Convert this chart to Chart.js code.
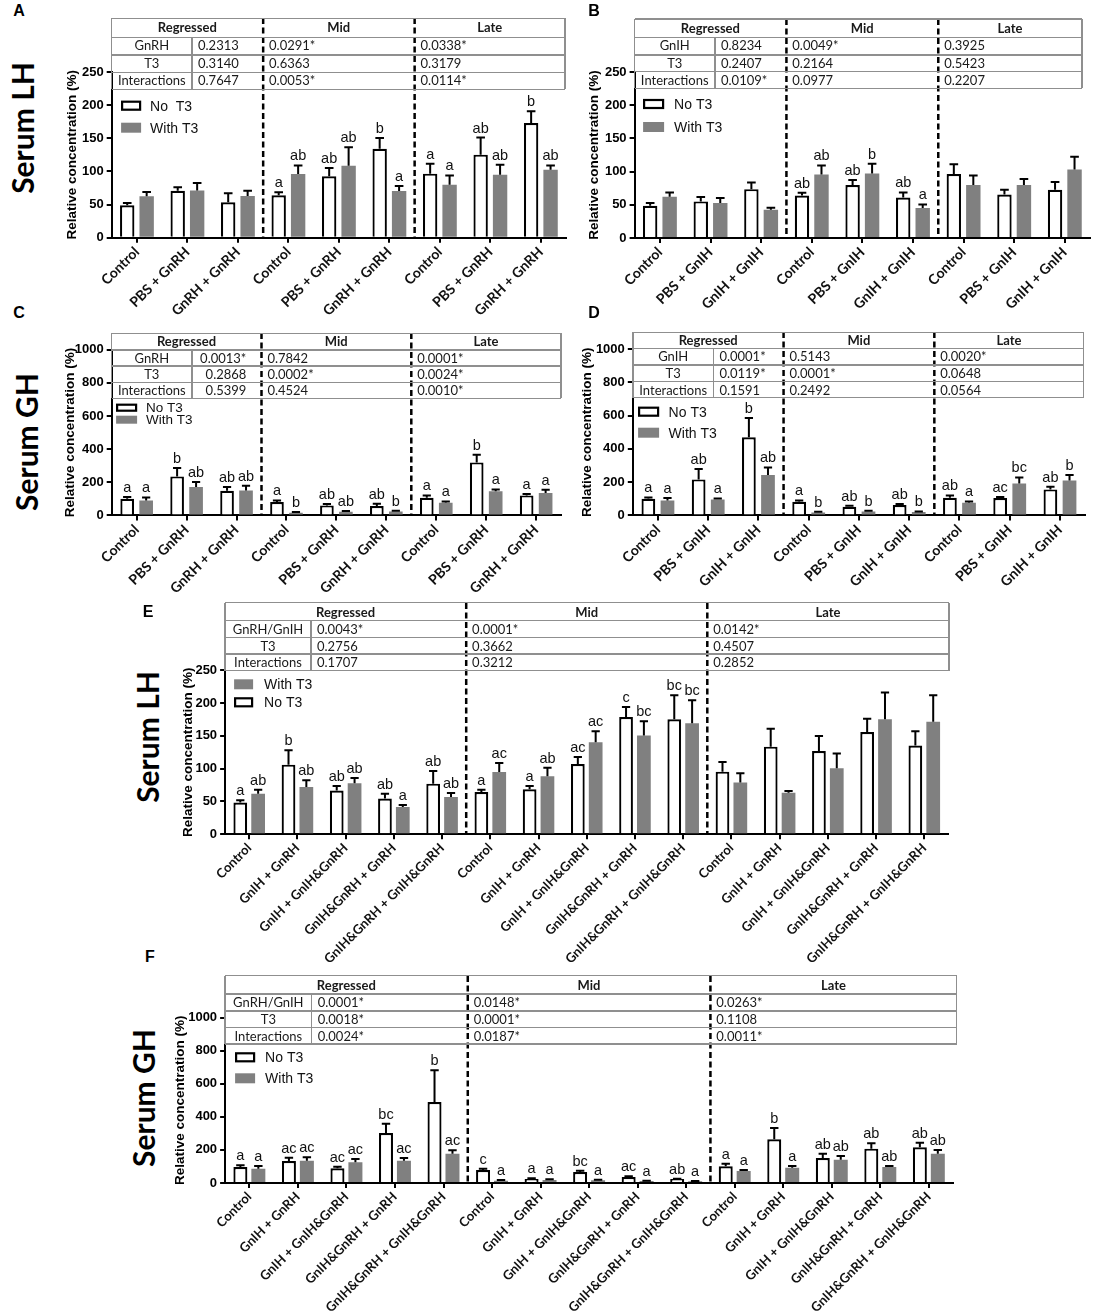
<!DOCTYPE html>
<html>
<head>
<meta charset="utf-8">
<script src="https://cdn.jsdelivr.net/npm/chart.js@4.4.1/dist/chart.umd.min.js"></script>
<style>
  body { margin: 0; background: #fff; width: 1095px; height: 1314px; position: relative; overflow: hidden; }
  canvas { position: absolute; }
  .tl { position: absolute; background: #8f8f8f; }
  .tt { position: absolute; font-family: Lato, sans-serif; font-size: 13px; color: #1a1a1a; white-space: nowrap; }
  .side { position: absolute; font-family: Lato, sans-serif; font-weight: bold; font-size: 30px; color: #000;
          transform: translate(-50%, -50%) rotate(-90deg); white-space: nowrap; }
  .letter { position: absolute; font-family: "Liberation Sans", Arial, sans-serif; font-weight: bold; font-size: 16px;
            color: #000; transform: translate(-50%, -50%); }
</style>
</head>
<body>
<script>
// ---- data ----
const stages = ['Regressed', 'Mid', 'Late'];

const labelsA = ['Control', 'PBS + GnRH', 'GnRH + GnRH', 'Control', 'PBS + GnRH', 'GnRH + GnRH', 'Control', 'PBS + GnRH', 'GnRH + GnRH'];
const labelsB = ['Control', 'PBS + GnIH', 'GnIH + GnIH', 'Control', 'PBS + GnIH', 'GnIH + GnIH', 'Control', 'PBS + GnIH', 'GnIH + GnIH'];
const labelsE = ['Control', 'GnIH + GnRH', 'GnIH + GnIH&GnRH', 'GnIH&GnRH + GnRH', 'GnIH&GnRH + GnIH&GnRH',
                 'Control', 'GnIH + GnRH', 'GnIH + GnIH&GnRH', 'GnIH&GnRH + GnRH', 'GnIH&GnRH + GnIH&GnRH',
                 'Control', 'GnIH + GnRH', 'GnIH + GnIH&GnRH', 'GnIH&GnRH + GnRH', 'GnIH&GnRH + GnIH&GnRH'];

// A - serum LH, GnRH
const aNoT3 = [48.8, 70.9, 53.3, 63.9, 92.6, 134.3, 96.6, 125.3, 173];
const aNoT3Err = [3.5, 5.1, 13.6, 4.5, 12.4, 16.1, 15.1, 25.7, 17.6];
const aWithT3 = [62.4, 71.4, 62.9, 96, 108.7, 70.4, 80, 95, 102.6];
const aWithT3Err = [6.5, 11.1, 8, 13, 27.6, 7.6, 14, 15, 6.4];
const aNoT3Sig = ['', '', '', 'a', 'ab', 'b', 'a', 'ab', 'b'];
const aWithT3Sig = ['', '', '', 'ab', 'ab', 'a', 'a', 'ab', 'ab'];
const factorsA = ['GnRH', 'T3', 'Interactions'];
const pRegA = ['0.2313', '0.3140', '0.7647'];
const pMidA = ['0.0291*', '0.6363', '0.0053*'];
const pLateA = ['0.0338*', '0.3179', '0.0114*'];

// B - serum LH, GnIH
const bNoT3 = [48.6, 55.1, 73.6, 64.1, 79.7, 61.1, 96.2, 65.6, 72.6];
const bNoT3Err = [4, 6.5, 10.1, 4, 7.5, 7.5, 15, 7, 11.6];
const bWithT3 = [62.1, 52.6, 42.6, 95.7, 97.2, 45.1, 79.7, 79.7, 103.2];
const bWithT3Err = [6.5, 7.5, 3, 13.5, 14.5, 5.5, 14.5, 9, 19];
const bNoT3Sig = ['', '', '', 'ab', 'ab', 'ab', '', '', ''];
const bWithT3Sig = ['', '', '', 'ab', 'b', 'a', '', '', ''];
const factorsB = ['GnIH', 'T3', 'Interactions'];
const pRegB = ['0.8234', '0.2407', '0.0109*'];
const pMidB = ['0.0049*', '0.2164', '0.0977'];
const pLateB = ['0.3925', '0.5423', '0.2207'];

// C - serum GH, GnRH
const cNoT3 = [100.6, 235.4, 148.9, 80.5, 60.4, 56.3, 106.6, 320, 120.7];
const cNoT3Err = [10.1, 50.3, 22.1, 10, 8, 14.1, 14.1, 46.2, 8.1];
const cWithT3 = [90.5, 171, 150.9, 16, 22, 24, 76.5, 145, 134.8];
const cWithT3Err = [18.2, 30, 28.1, 4, 4, 4, 8, 12, 20.2];
const cNoT3Sig = ['a', 'b', 'ab', 'a', 'ab', 'ab', 'a', 'b', 'a'];
const cWithT3Sig = ['a', 'ab', 'ab', 'b', 'ab', 'b', 'a', 'a', 'a'];
const factorsC = ['GnRH', 'T3', 'Interactions'];
const pRegC = ['0.0013*', '0.2868', '0.5399'];
const pMidC = ['0.7842', '0.0002*', '0.4524'];
const pLateC = ['0.0001*', '0.0024*', '0.0010*'];

// D - serum GH, GnIH
const dNoT3 = [100.2, 216.4, 469, 82.2, 52.1, 62.1, 106.2, 104.2, 156.3];
const dNoT3Err = [8, 62.2, 116, 8, 6, 6, 14, 6, 16];
const dWithT3 = [90.2, 96.2, 242.5, 18, 24, 20, 76.2, 192.4, 210.4];
const dWithT3Err = [14, 6, 46.1, 4, 4, 4, 8, 36.1, 32.1];
const dNoT3Sig = ['a', 'ab', 'b', 'a', 'ab', 'ab', 'ab', 'ac', 'ab'];
const dWithT3Sig = ['a', 'a', 'ab', 'b', 'b', 'b', 'a', 'bc', 'b'];
const factorsD = ['GnIH', 'T3', 'Interactions'];
const pRegD = ['0.0001*', '0.0119*', '0.1591'];
const pMidD = ['0.5143', '0.0001*', '0.2492'];
const pLateD = ['0.0020*', '0.0648', '0.0564'];

// E - serum LH, combined
const eNoT3 = [48.3, 106.2, 66.6, 54.4, 77.2, 64.5, 68.6, 107.2, 178.9, 175.3, 95.5, 133.6, 127, 156, 135.2];
const eNoT3Err = [3.5, 21.8, 7.1, 7.6, 19.3, 3.6, 5.1, 10.7, 15.2, 36.6, 14.8, 27.4, 22.9, 20.3, 21.8];
const eWithT3 = [62, 72.2, 77.7, 41.7, 56.9, 95, 88.4, 140.2, 150.5, 169.2, 78.8, 63.5, 100.6, 175.3, 171.7];
const eWithT3Err = [6.1, 10.1, 8.2, 3, 6.1, 13.7, 13.2, 16.8, 22, 35.1, 14.2, 2.5, 22.4, 40.7, 40.2];
const eNoT3Sig = ['a', 'b', 'ab', 'ab', 'ab', 'a', 'a', 'ac', 'c', 'bc', '', '', '', '', ''];
const eWithT3Sig = ['ab', 'ab', 'ab', 'a', 'ab', 'ac', 'ab', 'ac', 'bc', 'bc', '', '', '', '', ''];
const factorsE = ['GnRH/GnIH', 'T3', 'Interactions'];
const pRegE = ['0.0043*', '0.2756', '0.1707'];
const pMidE = ['0.0001*', '0.3662', '0.3212'];
const pLateE = ['0.0142*', '0.4507', '0.2852'];

// F - serum GH, combined
const fNoT3 = [96.8, 133, 88.7, 302.4, 489.9, 78.6, 24.2, 66.5, 36.3, 24.2, 100.8, 264.1, 151.2, 207.7, 215.7];
const fNoT3Err = [10.1, 20.2, 10.1, 56.5, 191.6, 8.1, 4, 8.1, 4, 2, 16.2, 68.6, 26.2, 32.2, 28.3];
const fWithT3 = [86.7, 135, 125, 135, 177.4, 14.1, 18.1, 16.1, 12.1, 10, 72.6, 92.7, 141.1, 96.8, 177.4];
const fWithT3Err = [16.1, 20.2, 20.2, 16.2, 20.2, 4, 4.1, 4.1, 2, 2, 6, 10.1, 22.2, 6, 22.2];
const fNoT3Sig = ['a', 'ac', 'ac', 'bc', 'b', 'c', 'a', 'bc', 'ac', 'ab', 'a', 'b', 'ab', 'ab', 'ab'];
const fWithT3Sig = ['a', 'ac', 'ac', 'ac', 'ac', 'a', 'a', 'a', 'a', 'a', 'a', 'a', 'ab', 'ab', 'ab'];
const factorsF = ['GnRH/GnIH', 'T3', 'Interactions'];
const pRegF = ['0.0001*', '0.0018*', '0.0024*'];
const pMidF = ['0.0148*', '0.0001*', '0.0187*'];
const pLateF = ['0.0263*', '0.1108', '0.0011*'];

// ---- layout of each panel (page pixels) ----
const panels = [
  { labels: labelsA, noLabel: 'No  T3', no: aNoT3, noErr: aNoT3Err, noSig: aNoT3Sig, w: aWithT3, wErr: aWithT3Err, wSig: aWithT3Sig,
    yMax: 250, step: 50, axisL: 111.6, axisR: 566, yTop: 72.3, y0: 238, titleX: 72, xH: 84, xFont: 14, splits: [3, 6], cp: 0.77, bp: 0.74,
    table: { L: 111.6, R: 565, c1: 192, rows: [18.3, 37.3, 55, 72.3, 89.3], factors: factorsA, reg: pRegA, mid: pMidA, late: pLateA, regAlign: 'left' },
    legend: { x: 121, w: 20, h: 10, tops: [101, 123], textX: 150, order: [0, 1], size: 14 } },
  { labels: labelsB, noLabel: 'No T3', no: bNoT3, noErr: bNoT3Err, noSig: bNoT3Sig, w: bWithT3, wErr: bWithT3Err, wSig: bWithT3Sig,
    yMax: 250, step: 50, axisL: 634.5, axisR: 1090, yTop: 72, y0: 238, titleX: 594, xH: 84, xFont: 14, splits: [3, 6], cp: 0.77, bp: 0.74,
    table: { L: 634.5, R: 1082, c1: 715, rows: [19, 37.3, 55, 71.5, 88.3], factors: factorsB, reg: pRegB, mid: pMidB, late: pLateB, regAlign: 'left' },
    legend: { x: 643, w: 21, h: 10, tops: [99, 122], textX: 674, order: [0, 1], size: 14 } },
  { labels: labelsA, noLabel: 'No T3', no: cNoT3, noErr: cNoT3Err, noSig: cNoT3Sig, w: cWithT3, wErr: cWithT3Err, wSig: cWithT3Sig,
    yMax: 1000, step: 200, axisL: 111.6, axisR: 561, yTop: 350, y0: 515.7, titleX: 70, xH: 84, xFont: 14, splits: [3, 6], cp: 0.76, bp: 0.72,
    table: { L: 111.6, R: 561, c1: 192, rows: [333.3, 350, 366, 382.3, 398.3], factors: factorsC, reg: pRegC, mid: pMidC, late: pLateC, regAlign: 'right' },
    legend: { x: 116, w: 21, h: 8, tops: [404, 416], textX: 146, order: [0, 1], size: 13.5 } },
  { labels: labelsB, noLabel: 'No T3', no: dNoT3, noErr: dNoT3Err, noSig: dNoT3Sig, w: dWithT3, wErr: dWithT3Err, wSig: dWithT3Sig,
    yMax: 1000, step: 200, axisL: 632.7, axisR: 1085, yTop: 349.3, y0: 515.7, titleX: 587, xH: 84, xFont: 14, splits: [3, 6], cp: 0.76, bp: 0.72,
    table: { L: 633, R: 1083.6, c1: 713.4, rows: [332.3, 348.3, 365, 381.7, 397.7], factors: factorsD, reg: pRegD, mid: pMidD, late: pLateD, regAlign: 'left' },
    legend: { x: 638, w: 21, h: 10, tops: [407, 428], textX: 668.5, order: [0, 1], size: 14 } },
  { labels: labelsE, noLabel: 'No T3', no: eNoT3, noErr: eNoT3Err, noSig: eNoT3Sig, w: eWithT3, wErr: eWithT3Err, wSig: eWithT3Sig,
    yMax: 250, step: 50, axisL: 225, axisR: 948.3, yTop: 670, y0: 834, titleX: 188, xH: 150, xFont: 13, splits: [5, 10], cp: 0.74, bp: 0.77,
    table: { L: 225, R: 949, c1: 311, rows: [602.7, 620.7, 637.7, 654, 670.7], factors: factorsE, reg: pRegE, mid: pMidE, late: pLateE, regAlign: 'left' },
    legend: { x: 234, w: 19, h: 10, tops: [679, 697], textX: 264, order: [1, 0], size: 14 } },
  { labels: labelsE, noLabel: 'No T3', no: fNoT3, noErr: fNoT3Err, noSig: fNoT3Sig, w: fWithT3, wErr: fWithT3Err, wSig: fWithT3Sig,
    yMax: 1000, step: 200, axisL: 225, axisR: 953, yTop: 1017.3, y0: 1182.7, titleX: 180, xH: 131, xFont: 13, splits: [5, 10], cp: 0.74, bp: 0.78,
    table: { L: 225, R: 956.7, c1: 311.7, rows: [975.7, 994, 1011, 1027.7, 1044], factors: factorsF, reg: pRegF, mid: pMidF, late: pLateF, regAlign: 'left' },
    legend: { x: 235, w: 20, h: 10, tops: [1052, 1073], textX: 265, order: [0, 1], size: 14 } }
];

const sideLabels = [
  { text: 'Serum LH', x: 22, y: 128 },
  { text: 'Serum GH', x: 26, y: 442 },
  { text: 'Serum LH', x: 147, y: 737 },
  { text: 'Serum GH', x: 143, y: 1098 }
];
const panelLetters = [
  { text: 'A', x: 19, y: 11 }, { text: 'B', x: 594, y: 11 },
  { text: 'C', x: 19, y: 313 }, { text: 'D', x: 594, y: 313 },
  { text: 'E', x: 148, y: 612 }, { text: 'F', x: 150, y: 957 }
];

// ---- plugin: dashed stage separators, error bars, letters, legend ----
const panelPlugin = {
  id: 'panel',
  afterDatasetsDraw(chart, args, opts) {
    const ctx = chart.ctx;
    const xs = chart.scales.x, ys = chart.scales.y, area = chart.chartArea;
    ctx.save();

    ctx.strokeStyle = '#000';
    ctx.lineWidth = 2.5;
    ctx.setLineDash([6, 3.5]);
    opts.splits.forEach(k => {
      const px = (xs.getPixelForTick(k - 1) + xs.getPixelForTick(k)) / 2;
      ctx.beginPath();
      ctx.moveTo(px, opts.lineTop);
      ctx.lineTo(px, area.bottom);
      ctx.stroke();
    });
    ctx.setLineDash([]);

    chart.data.datasets.forEach((ds, i) => {
      chart.getDatasetMeta(i).data.forEach((bar, j) => {
        const top = ys.getPixelForValue(ds.data[j] + ds.err[j]);
        const cap = bar.width * 0.3;
        ctx.strokeStyle = '#000';
        ctx.lineWidth = 2;
        ctx.beginPath();
        ctx.moveTo(bar.x, bar.y);
        ctx.lineTo(bar.x, top);
        ctx.moveTo(bar.x - cap, top);
        ctx.lineTo(bar.x + cap, top);
        ctx.stroke();
        if (ds.sig[j]) {
          ctx.fillStyle = '#111';
          ctx.font = '14.5px "Liberation Sans", Arial, sans-serif';
          ctx.textAlign = 'center';
          ctx.textBaseline = 'alphabetic';
          ctx.fillText(ds.sig[j], bar.x, top - 5);
        }
      });
    });

    // legend inside the plot
    const lg = opts.legend;
    lg.order.forEach((di, n) => {
      const ds = chart.data.datasets[di];
      const bx = lg.x - opts.offX, by = lg.tops[n] - opts.offY;
      if (ds.borderWidth) {
        ctx.fillStyle = '#fff';
        ctx.fillRect(bx, by, lg.w, lg.h);
        ctx.strokeStyle = '#000';
        ctx.lineWidth = 2.2;
        ctx.strokeRect(bx + 1, by + 1, lg.w - 2, lg.h - 2);
      } else {
        ctx.fillStyle = ds.backgroundColor;
        ctx.fillRect(bx, by, lg.w, lg.h);
      }
      ctx.fillStyle = '#111';
      ctx.font = lg.size + 'px "Liberation Sans", Arial, sans-serif';
      ctx.textAlign = 'left';
      ctx.textBaseline = 'middle';
      ctx.fillText(ds.label, lg.textX - opts.offX, by + lg.h / 2 + 1);
    });
    ctx.restore();
  }
};

function addLine(x, y, w, h) {
  const d = document.createElement('div');
  d.className = 'tl';
  Object.assign(d.style, { left: x + 'px', top: y + 'px', width: w + 'px', height: h + 'px' });
  document.body.appendChild(d);
}

function addText(text, x, y, w, h, align, bold) {
  const d = document.createElement('div');
  d.className = 'tt';
  d.textContent = text;
  Object.assign(d.style, { left: x + 'px', top: y + 'px', width: w + 'px', height: h + 'px',
    lineHeight: h + 'px', textAlign: align, fontWeight: bold ? 'bold' : 'normal' });
  document.body.appendChild(d);
}

function buildPanel(p) {
  const left = p.titleX - 8.1;
  const top = p.table.rows[0] - 4;
  const cw = Math.round(p.axisR + 14 - left);
  const ch = Math.round(p.y0 + p.xH - top);
  const cv = document.createElement('canvas');
  cv.width = cw;
  cv.height = ch;
  cv.style.left = left + 'px';
  cv.style.top = top + 'px';
  document.body.appendChild(cv);

  const chart = new Chart(cv, {
    type: 'bar',
    data: {
      labels: p.labels,
      datasets: [
        { label: p.noLabel, data: p.no, err: p.noErr, sig: p.noSig, backgroundColor: '#fff', borderColor: '#000', borderWidth: 2.2 },
        { label: 'With T3', data: p.w, err: p.wErr, sig: p.wSig, backgroundColor: '#808080', borderWidth: 0 }
      ]
    },
    options: {
      responsive: false,
      animation: false,
      events: [],
      layout: { padding: { left: 0, top: p.yTop - top, right: cw - (p.axisR - left), bottom: 0 } },
      datasets: { bar: { categoryPercentage: p.cp, barPercentage: p.bp } },
      plugins: {
        legend: { display: false },
        tooltip: { enabled: false },
        panel: { splits: p.splits, lineTop: p.table.rows[0] - top, legend: p.legend, offX: left, offY: top }
      },
      scales: {
        x: {
          offset: true,
          grid: { offset: false, drawOnChartArea: false, tickLength: 5, color: '#000', lineWidth: 2 },
          border: { color: '#000', width: 2 },
          ticks: { autoSkip: false, minRotation: 45, maxRotation: 45, padding: 1, color: '#111',
                   font: { family: 'Lato', weight: 'bold', size: p.xFont } },
          afterFit: s => { s.height = ch - (p.y0 - top); }
        },
        y: {
          min: 0, max: p.yMax,
          grid: { drawOnChartArea: false, tickLength: 5, color: '#000', lineWidth: 2 },
          border: { color: '#000', width: 2 },
          ticks: { stepSize: p.step, padding: 3, color: '#000', callback: v => String(v),
                   font: { family: '"Liberation Sans", Arial', weight: 'bold', size: 13 } },
          title: { display: true, text: 'Relative concentration (%)', color: '#000', padding: 0,
                   font: { family: '"Liberation Sans", Arial', weight: 'bold', size: 13.5 } },
          afterFit: s => { s.width = p.axisL - left; }
        }
      }
    },
    plugins: [panelPlugin]
  });

  // statistics table, its stage columns follow the dashed separators
  const t = p.table, xs = chart.scales.x;
  const d1 = left + (xs.getPixelForTick(p.splits[0] - 1) + xs.getPixelForTick(p.splits[0])) / 2;
  const d2 = left + (xs.getPixelForTick(p.splits[1] - 1) + xs.getPixelForTick(p.splits[1])) / 2;
  const r = t.rows, lw = 1.5;
  r.forEach(y => addLine(t.L, y - lw / 2, t.R - t.L, lw));
  addLine(t.L - lw / 2, r[0], lw, r[4] - r[0]);
  addLine(t.R - lw / 2, r[0], lw, r[4] - r[0]);
  addLine(t.c1 - lw / 2, r[1], lw, r[4] - r[1]);
  const bounds = [t.L, d1, d2, t.R];
  stages.forEach((s, i) => addText(s, bounds[i], r[0], bounds[i + 1] - bounds[i], r[1] - r[0], 'center', true));
  for (let k = 0; k < 3; k++) {
    const y = r[k + 1], h = r[k + 2] - r[k + 1];
    addText(t.factors[k], t.L, y, t.c1 - t.L, h, 'center', false);
    if (t.regAlign === 'right') addText(t.reg[k], t.c1, y, d1 - t.c1 - 15, h, 'right', false);
    else addText(t.reg[k], t.c1 + 6, y, d1 - t.c1 - 6, h, 'left', false);
    addText(t.mid[k], d1 + 6, y, d2 - d1 - 6, h, 'left', false);
    addText(t.late[k], d2 + 6, y, t.R - d2 - 6, h, 'left', false);
  }
}

panels.forEach(buildPanel);

sideLabels.forEach(s => {
  const d = document.createElement('div');
  d.className = 'side';
  d.textContent = s.text;
  d.style.left = s.x + 'px';
  d.style.top = s.y + 'px';
  document.body.appendChild(d);
});
panelLetters.forEach(s => {
  const d = document.createElement('div');
  d.className = 'letter';
  d.textContent = s.text;
  d.style.left = s.x + 'px';
  d.style.top = s.y + 'px';
  document.body.appendChild(d);
});
</script>
</body>
</html>
